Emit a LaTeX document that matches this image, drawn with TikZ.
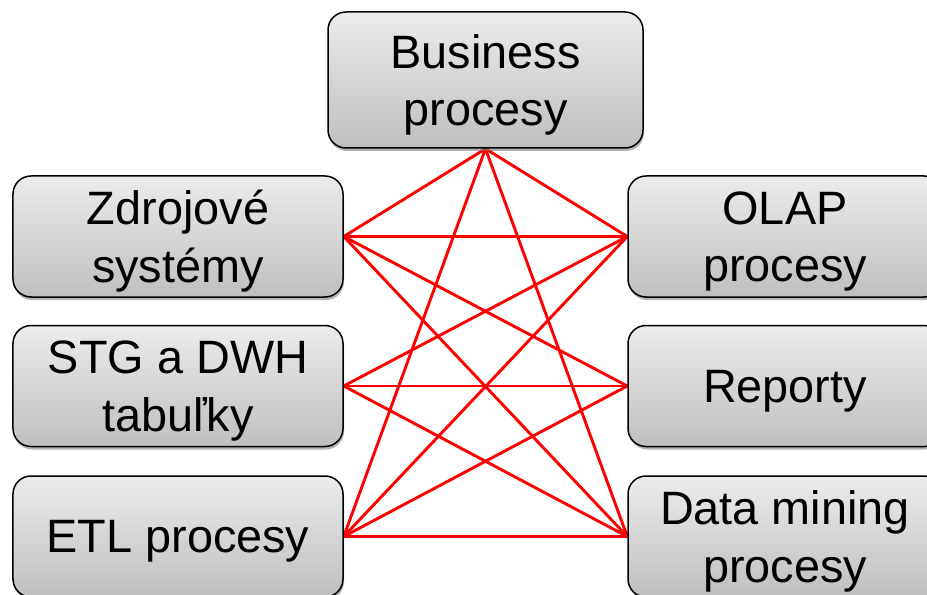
\documentclass[tikz,border=0pt]{standalone}
\usepackage{fontspec}
\setmainfont{Liberation Sans}
\usetikzlibrary{shadows,backgrounds}
\begin{document}
\begin{tikzpicture}[x=1bp,y=-1bp,
  box/.style={draw=black, line width=1.5bp, rounded corners=18bp,
    top color=gray!15, bottom color=gray!50, inner sep=0pt,
    drop shadow={shadow xshift=1bp, shadow yshift=-3bp, fill=gray, opacity=0.6}},
  lbox/.style={box, minimum width=330bp, minimum height=121bp},
  rbox/.style={box, minimum width=314bp, minimum height=121bp},
  txt/.style={align=center, font=\fontsize{47}{58}\selectfont, inner sep=0pt, yshift=-5bp},
  link/.style={draw=red, line width=2.9bp}]
\useasboundingbox (0,0) rectangle (927,595);
\clip (0,0) rectangle (927,595);
\node[box, minimum width=315bp, minimum height=136bp] (biz) at (485.5,80) {};
\node[lbox] (zdroj) at (178,236.5) {};
\node[lbox] (stg) at (178,386) {};
\node[lbox] (etl) at (178,536.5) {};
\node[rbox] (olap) at (785,236.5) {};
\node[rbox] (rep) at (785,386) {};
\node[rbox] (dm) at (785,536.5) {};
\node[txt] (bizT) at (biz.center) {Business\\procesy};
\node[txt] (zdrojT) at (zdroj.center) {Zdrojové\\systémy};
\node[txt] (stgT) at (stg.center) {STG a DWH\\tabuľky};
\node[txt] (etlT) at (etl.center) {ETL procesy};
\node[txt] (olapT) at (olap.center) {OLAP\\procesy};
\node[txt] (repT) at (rep.center) {Reporty};
\node[txt] (dmT) at (dm.center) {Data mining\\procesy};
\begin{scope}[on background layer]
\draw[link] (biz.south) -- (zdroj.east);
\draw[link] (biz.south) -- (etl.east);
\draw[link] (biz.south) -- (olap.west);
\draw[link] (biz.south) -- (dm.west);
\foreach \a in {zdroj,stg,etl}{
  \foreach \b in {olap,rep,dm}{
    \draw[link] (\a.east) -- (\b.west);
  }
}
\end{scope}
\end{tikzpicture}
\end{document}
